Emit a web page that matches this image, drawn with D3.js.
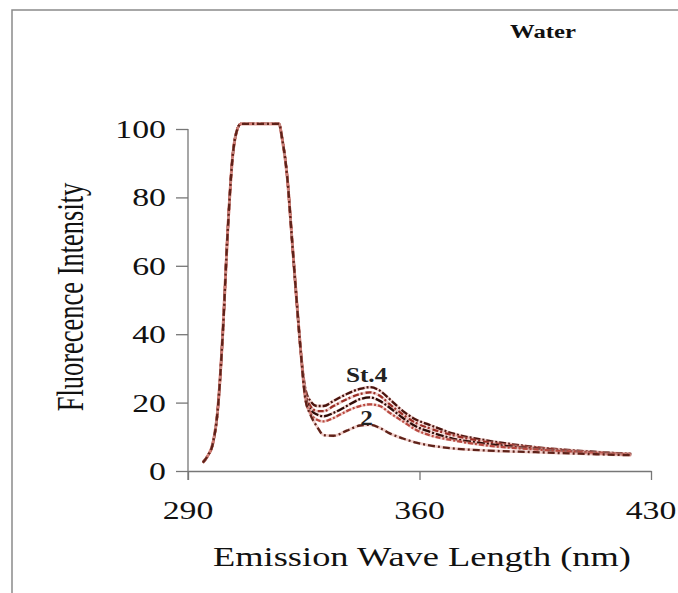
<!DOCTYPE html>
<html><head><meta charset="utf-8">
<script src="https://cdn.jsdelivr.net/npm/d3@7"></script>
<style>body{margin:0;background:#fff}svg{display:block}</style>
</head><body>
<script>
// ---- data ----
const xTicks = [290, 360, 430];
const yTicks = [0, 20, 40, 60, 80, 100];
// shared rise / plateau / fall section (wavelength nm, intensity)
const headX = [294.5, 296, 297.5, 299, 300.5, 302, 303.5, 304.5, 306, 317.5, 318.5, 320, 321.5, 323, 324];
const headY = [2.5, 4.5, 8, 18, 40, 70, 92, 98.5, 101.5, 101.5, 97, 86, 67, 48, 36];
// per-station tails
const tailX = [325.5, 327, 329, 331, 334, 338, 342, 345, 348, 351, 355, 359, 363, 370, 380, 395, 410, 424];
const st4 = [24, 20.5, 19, 19, 20.5, 22.5, 24, 24.5, 23.5, 21, 17.5, 15, 13.5, 11, 9, 7, 5.8, 5];
const st3 = [23, 19, 17.5, 17.5, 19, 21, 22.5, 23, 22, 19.5, 16.5, 14, 12.5, 10.5, 8.5, 6.8, 5.6, 4.9];
const st1 = [22, 18, 16.5, 16, 17, 19, 21, 21.5, 20.5, 18.5, 15.5, 13, 11.5, 9.5, 8, 6.5, 5.5, 4.8];
const st5 = [21, 17, 15, 14.5, 15.5, 17.5, 19, 19.5, 19, 17, 14.5, 12, 10.5, 9, 7.5, 6.3, 5.4, 4.7];
const st2 = [21, 16.5, 13, 10.5, 10.3, 11.8, 13.3, 13.5, 12.6, 11, 9.5, 8.3, 7.5, 6.6, 6, 5.5, 5, 4.6];
const seriesNames = ["St.4", "St.3", "St.1", "St.5", "2"];
const seriesTails = [st4, st3, st1, st5, st2];
const labels = [{text: "St.4", x: 344, y: 28}, {text: "2", x: 344, y: 15.5}];
const title = "Water";
const xTitle = "Emission Wave Length (nm)";
const yTitle = "Fluorecence Intensity";

// ---- layout ----
const W = 678, H = 593;
const svg = d3.select("body").append("svg").attr("width", W).attr("height", H);
svg.append("rect").attr("x", 12).attr("y", 10).attr("width", 700).attr("height", 620)
  .attr("fill", "#fff").attr("stroke", "#8a8a8a").attr("stroke-width", 1.5);

const x = d3.scaleLinear().domain([290, 430]).range([188, 651]);
const y = d3.scaleLinear().domain([0, 100]).range([471, 129]);
const serif = "'Liberation Serif','Times New Roman',serif";
const SX = 1.3; // horizontal stretch of the original

// axes
const gx = svg.append("g").attr("transform", "translate(0,471)")
  .call(d3.axisBottom(x).tickValues(xTicks).tickSize(9).tickSizeOuter(0).tickFormat(""));
const gy = svg.append("g").attr("transform", "translate(188,0)")
  .call(d3.axisLeft(y).tickValues(yTicks).tickSize(12).tickSizeOuter(0).tickFormat(""));
[gx, gy].forEach(g => { g.selectAll("path,line").attr("stroke", "#777").attr("stroke-width", 1.3); });
gy.select(".domain").remove();
svg.append("line").attr("x1", 188).attr("x2", 188).attr("y1", y(100)).attr("y2", 480)
  .attr("stroke", "#777").attr("stroke-width", 1.3);

// tick labels
yTicks.forEach(v => {
  svg.append("text").attr("transform", `translate(166,${y(v) + 9}) scale(${SX},1)`)
    .attr("text-anchor", "end").attr("font-family", serif).attr("font-size", 26)
    .attr("fill", "#111").text(v);
});
xTicks.forEach(v => {
  svg.append("text").attr("transform", `translate(${x(v)},${519}) scale(${SX},1)`)
    .attr("text-anchor", "middle").attr("font-family", serif).attr("font-size", 26)
    .attr("fill", "#111").text(v);
});

// titles
svg.append("text").attr("transform", `translate(422,566) scale(${SX},1)`)
  .attr("text-anchor", "middle").attr("font-family", serif).attr("font-size", 28)
  .attr("fill", "#111").text(xTitle);
svg.append("text").attr("transform", `translate(83,297) scale(1.4,1) rotate(-90)`)
  .attr("text-anchor", "middle").attr("font-family", serif).attr("font-size", 26.5)
  .attr("fill", "#111").text(yTitle);
svg.append("text").attr("transform", `translate(543,38) scale(${SX},1)`)
  .attr("text-anchor", "middle").attr("font-family", serif).attr("font-size", 19)
  .attr("font-weight", "bold").attr("fill", "#111").text(title);

// curves
const line = d3.line().x(d => x(d[0])).y(d => y(d[1])).curve(d3.curveMonotoneX);
const colors = ["#4a140e", "#9a2e26", "#2e0c08", "#b8483f", "#5e2219"];
const dashes = ["7,2,2,2", "6,2,2,3", "8,2,2,2", "5,2,2,2", "7,3,2,3"];
seriesTails.forEach((tail, i) => {
  const pts = headX.map((hx, j) => [hx, headY[j]]).concat(tailX.map((tx, j) => [tx, tail[j]]));
  svg.append("path").datum(pts).attr("d", line).attr("fill", "none")
    .attr("stroke", "#e3a59e").attr("stroke-width", 2.8).attr("opacity", 0.55);
  svg.append("path").datum(pts).attr("d", line).attr("fill", "none")
    .attr("stroke", colors[i]).attr("stroke-width", 2.3).attr("stroke-dasharray", dashes[i])
    .attr("class", "series").attr("data-name", seriesNames[i]);
});

// curve labels
labels.forEach(l => {
  svg.append("text").attr("transform", `translate(${x(l.x)},${y(l.y) + 7}) scale(1.2,1)`)
    .attr("text-anchor", "middle").attr("font-family", serif).attr("font-size", 21)
    .attr("font-weight", "bold").attr("fill", "#222").text(l.text);
});
</script>
</body></html>
